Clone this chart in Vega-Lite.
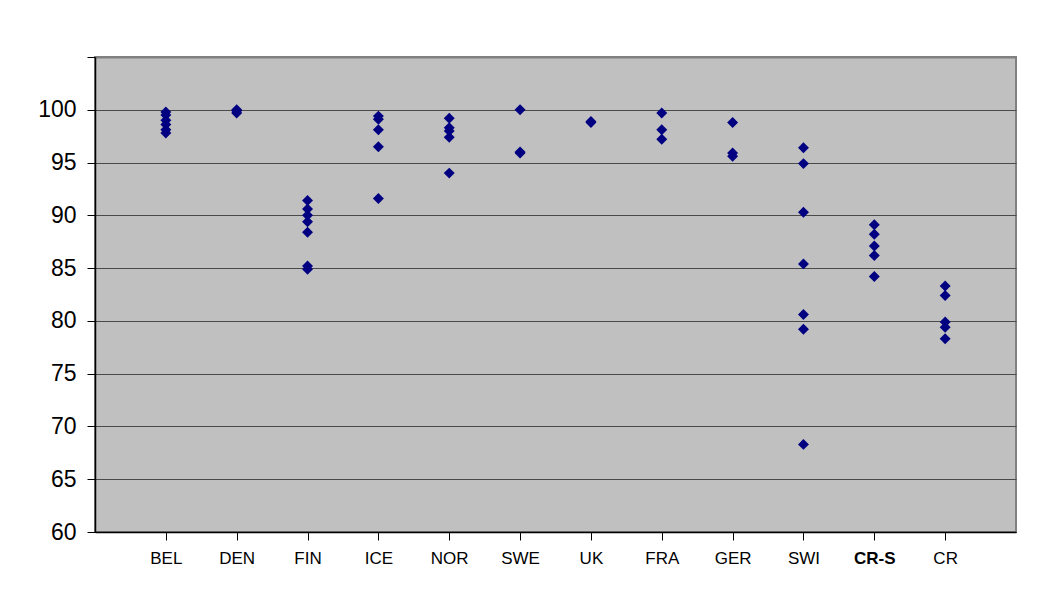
{
  "$schema": "https://vega.github.io/schema/vega-lite/v6.json",
  "width": 921,
  "height": 475,
  "autosize": {"type": "none"},
  "padding": {"left": 95, "top": 57, "right": 26, "bottom": 66},
  "background": "white",
  "config": {
    "view": {"fill": "#C0C0C0", "stroke": "#808080", "strokeWidth": 2},
    "font": "Liberation Sans"
  },
  "data": {
    "values": [
      {"country": "BEL", "value": 99.8},
      {"country": "BEL", "value": 99.5},
      {"country": "BEL", "value": 99.0},
      {"country": "BEL", "value": 98.6},
      {"country": "BEL", "value": 98.1},
      {"country": "BEL", "value": 97.8},
      {"country": "DEN", "value": 100.0},
      {"country": "DEN", "value": 99.9},
      {"country": "DEN", "value": 99.7},
      {"country": "FIN", "value": 91.4},
      {"country": "FIN", "value": 90.6},
      {"country": "FIN", "value": 90.0},
      {"country": "FIN", "value": 89.4},
      {"country": "FIN", "value": 88.4},
      {"country": "FIN", "value": 85.2},
      {"country": "FIN", "value": 84.9},
      {"country": "ICE", "value": 99.4},
      {"country": "ICE", "value": 99.1},
      {"country": "ICE", "value": 98.1},
      {"country": "ICE", "value": 96.5},
      {"country": "ICE", "value": 91.6},
      {"country": "NOR", "value": 99.2},
      {"country": "NOR", "value": 98.3},
      {"country": "NOR", "value": 98.0},
      {"country": "NOR", "value": 97.4},
      {"country": "NOR", "value": 94.0},
      {"country": "SWE", "value": 100.0},
      {"country": "SWE", "value": 96.0},
      {"country": "SWE", "value": 95.9},
      {"country": "UK", "value": 98.9},
      {"country": "UK", "value": 98.8},
      {"country": "FRA", "value": 99.7},
      {"country": "FRA", "value": 98.1},
      {"country": "FRA", "value": 97.2},
      {"country": "GER", "value": 98.8},
      {"country": "GER", "value": 95.9},
      {"country": "GER", "value": 95.6},
      {"country": "SWI", "value": 96.4},
      {"country": "SWI", "value": 94.9},
      {"country": "SWI", "value": 90.3},
      {"country": "SWI", "value": 85.4},
      {"country": "SWI", "value": 80.6},
      {"country": "SWI", "value": 79.2},
      {"country": "SWI", "value": 68.3},
      {"country": "CR-S", "value": 89.1},
      {"country": "CR-S", "value": 88.2},
      {"country": "CR-S", "value": 87.1},
      {"country": "CR-S", "value": 86.2},
      {"country": "CR-S", "value": 84.2},
      {"country": "CR", "value": 83.3},
      {"country": "CR", "value": 82.4},
      {"country": "CR", "value": 79.9},
      {"country": "CR", "value": 79.4},
      {"country": "CR", "value": 78.3}
    ]
  },
  "mark": {"type": "point", "shape": "diamond", "filled": true, "size": 120, "color": "#000080", "opacity": 1},
  "encoding": {
    "x": {
      "field": "country",
      "type": "nominal",
      "sort": ["BEL", "DEN", "FIN", "ICE", "NOR", "SWE", "UK", "FRA", "GER", "SWI", "CR-S", "CR"],
      "scale": {"type": "point", "padding": 1},
      "axis": {
        "title": null,
        "labelAngle": 0,
        "labelFontSize": 17,
        "labelColor": "#000",
        "labelPadding": 10,
        "labelFontWeight": {"condition": {"test": "datum.value == 'CR-S'", "value": "bold"}, "value": "normal"},
        "tickSize": 8,
        "tickColor": "#000",
        "domainColor": "#000",
        "domainWidth": 1.5,
        "grid": false
      }
    },
    "y": {
      "field": "value",
      "type": "quantitative",
      "scale": {"domain": [60, 105], "nice": false, "zero": false},
      "axis": {
        "title": null,
        "values": [60, 65, 70, 75, 80, 85, 90, 95, 100, 105],
        "labelExpr": "datum.value > 100 ? '' : datum.label",
        "labelFontSize": 23,
        "labelColor": "#000",
        "labelPadding": 11,
        "tickSize": 8,
        "tickColor": "#000",
        "domainColor": "#000",
        "domainWidth": 1.5,
        "grid": true,
        "gridColor": {"condition": {"test": "datum.value >= 105", "value": "#808080"}, "value": "#4a4a4a"},
        "gridWidth": {"condition": {"test": "datum.value >= 105", "value": 2}, "value": 1.2},
        "gridOpacity": 1
      }
    }
  }
}
